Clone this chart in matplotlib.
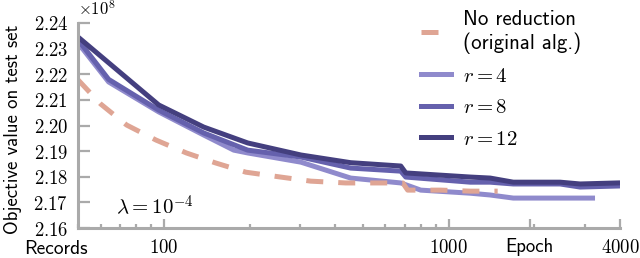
#!/usr/bin/python3
# Objective value on test set vs. records / epochs, log x axis.

import matplotlib
matplotlib.use('Agg')
import matplotlib.pyplot as plt

# Values are in units of 1e8.
base_x = [50, 60, 74, 94, 120, 152, 194, 257, 328, 435, 577, 690, 718, 937, 1195, 1486]
base_y = [2.2178, 2.2084, 2.2002, 2.1943, 2.1893, 2.1854, 2.1818, 2.1799, 2.1783,
          2.1776, 2.1776, 2.1776, 2.1748, 2.1748, 2.1744, 2.1744]

r4_x = [50, 64, 96, 138, 176, 197, 303, 453, 679, 798, 1191, 1399, 1686, 2462, 3199]
r4_y = [2.2322, 2.2170, 2.2053, 2.1963, 2.1904, 2.1893, 2.1857, 2.1795, 2.1776,
        2.1748, 2.1736, 2.1729, 2.1717, 2.1717, 2.1717]

r8_x = [50, 64, 96, 138, 197, 303, 453, 679, 707, 1191, 1399, 1686, 2462, 2893, 3916]
r8_y = [2.2334, 2.2180, 2.2060, 2.1971, 2.1904, 2.1877, 2.1834, 2.1822, 2.1799,
        2.1779, 2.1779, 2.1772, 2.1772, 2.1760, 2.1764]

r12_x = [50, 96, 138, 197, 303, 453, 679, 707, 1191, 1399, 1686, 2462, 2893, 3916]
r12_y = [2.2345, 2.2080, 2.1994, 2.1932, 2.1885, 2.1855, 2.1842, 2.1815, 2.1799,
         2.1795, 2.1779, 2.1779, 2.1772, 2.1776]

yticks = [2.16, 2.17, 2.18, 2.19, 2.20, 2.21, 2.22, 2.23, 2.24]
xticks = [100, 1000, 1925, 4000]
xticklabels = ['$100$', '$1000$', 'Epoch', '$4000$']

GRAY = '#aaaaaa'
SANS = 'cmss10'
plt.rcParams['mathtext.fontset'] = 'cm'

fig = plt.figure(figsize=(6.4, 2.58), dpi=100)
ax = fig.add_axes([0.122, 0.116, 0.847, 0.795])

lw = 3.6
l4, = ax.plot(r4_x, r4_y, color='#8f8acc', lw=lw, label='$r = 4$')
l8, = ax.plot(r8_x, r8_y, color='#6561ad', lw=lw, label='$r = 8$')
l12, = ax.plot(r12_x, r12_y, color='#443f7f', lw=lw, label='$r = 12$')
lb, = ax.plot(base_x, base_y, color='#dfa594', lw=lw, linestyle=(0, (3.4, 3.0)),
              label='No reduction\n(original alg.)')

ax.set_xscale('log')
ax.set_xlim(50, 4000)
ax.set_ylim(2.16, 2.24)

for s in ['top', 'right']:
  ax.spines[s].set_visible(False)
for s in ['left', 'bottom']:
  ax.spines[s].set_color(GRAY)
  ax.spines[s].set_linewidth(2.2)

ax.set_yticks(yticks)
ax.set_yticklabels(['$%.2f$' % v for v in yticks], fontsize=13.5)
ax.set_xticks(xticks)
ax.set_xticklabels(xticklabels, fontsize=13.5)
ax.get_xticklabels()[2].set_family(SANS)

ax.tick_params(axis='y', direction='in', length=8.5, width=1.6, color=GRAY, pad=7)
ax.tick_params(axis='x', which='major', direction='in', length=6.5, width=1.6, color=GRAY, pad=7)
ax.tick_params(axis='x', which='minor', direction='in', length=3, width=1.6, color=GRAY)

ax.text(-0.04, -0.1, 'Records', transform=ax.transAxes, ha='center', va='center',
        fontsize=14, family=SANS)
ax.text(0.0, 1.02, r'$\times10^{8}$', transform=ax.transAxes, ha='left', va='bottom',
        fontsize=12)
ax.text(0.07, 0.11, r'$\lambda = 10^{-4}$', transform=ax.transAxes, ha='left', va='center',
        fontsize=15)
fig.text(0.02, 0.5, 'Objective value on test set', rotation=90, ha='center', va='center',
         fontsize=13.5, family=SANS)

fig.legend(handles=[lb, l4, l8, l12], loc='upper left', bbox_to_anchor=(0.658, 0.96),
           frameon=False, prop={'family': SANS, 'size': 15}, handlelength=1.44,
           handletextpad=0.58, labelspacing=0.6, borderpad=0, borderaxespad=0)

fig.savefig('out.png', dpi=100)
